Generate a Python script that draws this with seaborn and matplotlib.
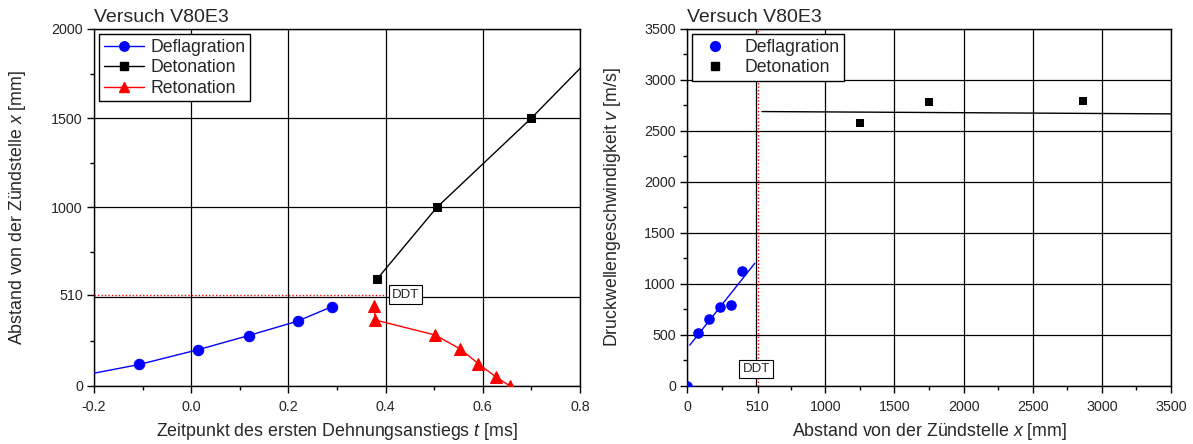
import numpy as np
import pandas as pd
import matplotlib
matplotlib.use("Agg")
import matplotlib.pyplot as plt
import seaborn as sns
from matplotlib.lines import Line2D

# --- Versuch V80E3: arrival times of the first strain rise (left panel) ---
defl_t = [-0.257, -0.107, 0.013, 0.118, 0.219, 0.290]
defl_x = [40, 119, 201, 281, 362, 444]
det_t = [0.383, 0.5055, 0.6997, 0.8795]
det_x = [600, 1000, 1500, 2000]
ret_t = [0.376, 0.379, 0.502, 0.554, 0.591, 0.628, 0.655]
ret_x = [445, 368, 284, 205, 123, 47, 0]
ddt_pos = 510

# --- pressure wave velocities along the tube (right panel) ---
vel_defl_x = [0, 82, 159, 238, 318, 397]
vel_defl_v = [0, 522, 653, 768, 791, 1127]
vel_det_x = [1250, 1747, 2865]
vel_det_v = [2575, 2781, 2794]
det_level_x = [542, 3500]
det_level_v = [2690, 2667]

BLUE, RED, BLACK = "#0000ff", "#ff0000", "#000000"

sns.set_style("white")
plt.rcParams["font.family"] = ["Liberation Sans", "DejaVu Sans"]
plt.rcParams["mathtext.fontset"] = "custom"
plt.rcParams["mathtext.it"] = "Liberation Sans:italic"
plt.rcParams["mathtext.rm"] = "Liberation Sans"
plt.rcParams["axes.edgecolor"] = "black"
plt.rcParams["axes.linewidth"] = 1.0

fig = plt.figure(figsize=(11.93, 4.44), dpi=100)
axL = fig.add_axes([0.0788, 0.1313, 0.4074, 0.8034])
axR = fig.add_axes([0.5759, 0.1313, 0.4057, 0.8034])

TICK_FS = 10.3
LABEL_FS = 12.8
TITLE_FS = 14
LEG_FS = 12.7
DDT_FS = 9.5


def style_axes(ax):
    ax.tick_params(axis="both", which="major", direction="out", length=5,
                   width=1, color="black", labelsize=TICK_FS,
                   bottom=True, left=True, top=False, right=False)
    ax.tick_params(axis="x", which="major", pad=5)
    ax.tick_params(axis="y", which="major", pad=3)
    ax.tick_params(axis="both", which="minor", direction="out", length=3,
                   width=1, color="black", bottom=True, left=True,
                   top=False, right=False)
    for s in ax.spines.values():
        s.set_visible(True)
        s.set_color("black")
        s.set_linewidth(1.0)


def grid(ax, xs, ys):
    for v in xs:
        ax.axvline(v, color="black", lw=0.9, zorder=1)
    for v in ys:
        ax.axhline(v, color="black", lw=0.9, zorder=1)


def make_legend(ax, handles, labels, handlelength, textpad):
    leg = ax.legend(handles, labels, loc="upper left",
                    bbox_to_anchor=(0.0, 1.0), fontsize=LEG_FS,
                    frameon=True, fancybox=False, framealpha=1,
                    edgecolor="black", borderpad=0.25, labelspacing=0.2,
                    handlelength=handlelength, handletextpad=textpad,
                    borderaxespad=0.3)
    leg.get_frame().set_linewidth(1.0)
    leg.set_zorder(10)
    return leg


# ---------------- left panel ----------------
ax = axL
ax.set_xlim(-0.2, 0.8)
ax.set_ylim(0, 2000)
grid(ax, np.arange(-0.2, 0.81, 0.2), np.arange(0, 2001, 500))

sns.lineplot(x=defl_t, y=defl_x, ax=ax, color=BLUE, lw=1.0, marker="o",
             markersize=7.5, mec=BLUE, mfc=BLUE, sort=False, estimator=None,
             zorder=5)
sns.lineplot(x=det_t, y=det_x, ax=ax, color=BLACK, lw=1.0, marker="s",
             markersize=6.3, mec=BLACK, mfc=BLACK, sort=False, estimator=None,
             zorder=5)
sns.lineplot(x=ret_t, y=ret_x, ax=ax, color=RED, lw=1.0, marker="^",
             markersize=8, mec=RED, mfc=RED, sort=False, estimator=None,
             zorder=5)

ax.hlines(ddt_pos, -0.2, 0.4, colors=RED, linestyles=(0, (1, 1.5)), lw=1.0,
          zorder=4)
ax.text(0.441, ddt_pos, "DDT", ha="center", va="center", fontsize=DDT_FS,
        zorder=6,
        bbox=dict(boxstyle="square,pad=0.25", fc="white", ec="black", lw=0.8))

ax.set_xticks(np.round(np.arange(-0.2, 0.81, 0.2), 1))
ax.set_xticklabels(["-0.2", "0.0", "0.2", "0.4", "0.6", "0.8"])
ax.set_xticks(np.round(np.arange(-0.1, 0.8, 0.2), 1), minor=True)
ax.set_yticks([0, ddt_pos, 1000, 1500, 2000])
ax.set_yticklabels(["0", str(ddt_pos), "1000", "1500", "2000"])
ax.set_yticks([250, 750, 1250, 1750], minor=True)
style_axes(ax)
ax.set_xlabel(r"Zeitpunkt des ersten Dehnungsanstiegs $t$ [ms]",
              fontsize=LABEL_FS)
ax.set_ylabel(r"Abstand von der Zündstelle $x$ [mm]", fontsize=LABEL_FS)
ax.xaxis.set_label_coords(0.5, -0.127)
ax.yaxis.set_label_coords(-0.158, 0.5)
ax.xaxis.label.set_va("center")
ax.yaxis.label.set_va("center")
ax.text(0.0, 1.008, "Versuch V80E3", transform=ax.transAxes,
        fontsize=TITLE_FS, ha="left", va="bottom")

handles = [
    Line2D([], [], color=BLUE, lw=1.0, marker="o", markersize=6.8, mec=BLUE),
    Line2D([], [], color=BLACK, lw=1.0, marker="s", markersize=5.5, mec=BLACK),
    Line2D([], [], color=RED, lw=1.0, marker="^", markersize=7.5, mec=RED),
]
make_legend(ax, handles, ["Deflagration", "Detonation", "Retonation"],
            2.3, 0.35)

# ---------------- right panel ----------------
ax = axR
ax.set_xlim(0, 3500)
ax.set_ylim(0, 3500)
grid(ax, np.arange(0, 3501, 500), np.arange(0, 3501, 500))

# linear fit through the deflagration velocities
fit = np.polyfit(vel_defl_x[1:], vel_defl_v[1:], 1)
fx = np.array([20, 490])
sns.lineplot(x=fx, y=np.polyval(fit, fx), ax=ax, color=BLUE, lw=1.0,
             estimator=None, zorder=4)
sns.lineplot(x=det_level_x, y=det_level_v, ax=ax, color=BLACK, lw=1.0,
             estimator=None, zorder=4)

ax.axvline(ddt_pos, color=RED, ls=(0, (1, 1.5)), lw=1.0, zorder=4)

sns.scatterplot(x=vel_defl_x, y=vel_defl_v, ax=ax, color=BLUE, marker="o",
                s=58, edgecolor=BLUE, linewidth=0, zorder=5, legend=False)
sns.scatterplot(x=vel_det_x, y=vel_det_v, ax=ax, color=BLACK, marker="s",
                s=38, edgecolor=BLACK, linewidth=0, zorder=5, legend=False)

ax.text(500, 164, "DDT", ha="center", va="center", fontsize=DDT_FS, zorder=6,
        bbox=dict(boxstyle="square,pad=0.25", fc="white", ec="black", lw=0.8))

ax.set_xticks([0, ddt_pos, 1000, 1500, 2000, 2500, 3000, 3500])
ax.set_xticklabels(["0", str(ddt_pos), "1000", "1500", "2000", "2500",
                    "3000", "3500"])
ax.set_xticks(np.arange(250, 3500, 500), minor=True)
ax.set_yticks(np.arange(0, 3501, 500))
ax.set_yticks(np.arange(250, 3500, 500), minor=True)
style_axes(ax)
ax.set_xlabel(r"Abstand von der Zündstelle $x$ [mm]", fontsize=LABEL_FS)
ax.set_ylabel(r"Druckwellengeschwindigkeit $v$ [m/s]", fontsize=LABEL_FS)
ax.xaxis.set_label_coords(0.5, -0.127)
ax.yaxis.set_label_coords(-0.155, 0.5)
ax.xaxis.label.set_va("center")
ax.yaxis.label.set_va("center")
ax.text(0.0, 1.008, "Versuch V80E3", transform=ax.transAxes,
        fontsize=TITLE_FS, ha="left", va="bottom")

handles_r = [
    Line2D([], [], color=BLUE, lw=0, marker="o", markersize=7, mec=BLUE),
    Line2D([], [], color=BLACK, lw=0, marker="s", markersize=5.8, mec=BLACK),
]
make_legend(ax, handles_r, ["Deflagration", "Detonation"], 2.1, 0.6)

fig.savefig("out.png", dpi=100)
